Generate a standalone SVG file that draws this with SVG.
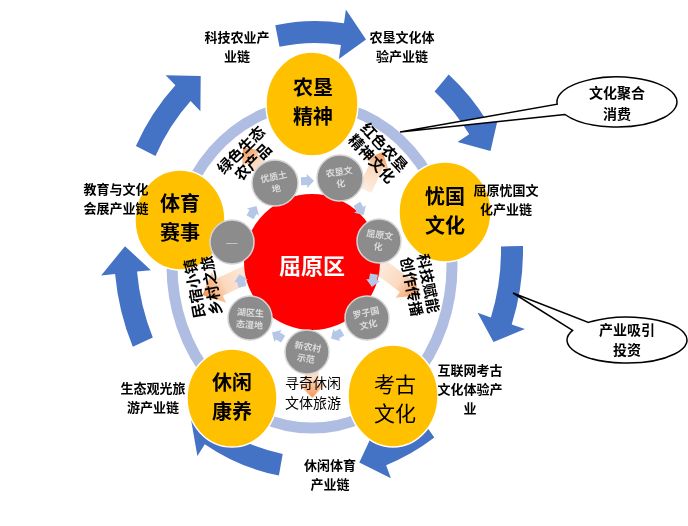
<svg xmlns="http://www.w3.org/2000/svg" width="688" height="526" viewBox="0 0 688 526">
<style>
text{font-family:"Noto Sans CJK SC","Liberation Sans",sans-serif;text-anchor:middle;fill:#000}
.lbl{font-size:13px;font-weight:700}
.nt{font-size:20px;font-weight:700}
.rt{font-size:15px;font-weight:700}
.arr{fill:#4472C4}
.node{fill:#FFC000;stroke:#FFFFFF;stroke-width:1.5}
.gc{fill:#8C8C8C;stroke:#D4D4D4;stroke-width:1.5}
.gt{font-size:9px;font-weight:700;fill:#DCDCDC}
.sba{fill:#B4C7E7}
.pa{opacity:0.9}
.call{fill:#FFFFFF;stroke:#000;stroke-width:1.5}
.ct{font-size:14px;font-weight:700}
</style>
<defs>
<linearGradient id="pg" x1="0" y1="0" x2="1" y2="0">
<stop offset="0" stop-color="#FDEBDD"/>
<stop offset="0.55" stop-color="#FBD5B8"/>
<stop offset="1" stop-color="#F0883E"/>
</linearGradient>
<path id="pa" d="M0,-7 L28,-7 L28,-13 L42,0 L28,13 L28,7 L0,7 Z" fill="url(#pg)"/>
<path id="sa" d="M-6,-4 L0,-4 L0,-7 L7,0 L0,7 L0,4 L-6,4 Z"/>
</defs>

<ellipse id="ring" cx="312" cy="266" rx="140" ry="162" fill="none" stroke="#B0BDE3" stroke-width="11"/>

<g id="connectors">
<g id="outer-arrows" class="arr">
<path d="M275.3,25.2 A208,229 0 0 1 344.0,23.2 L345.9,9.4 L366.0,39.4 L338.9,58.9 L340.9,45.0 A186,207 0 0 0 279.5,46.8 Z"/>
<path d="M448.7,74.6 A208,229 0 0 1 487.4,121.9 L499.0,114.1 L490.5,151.0 L457.6,142.1 L469.2,134.2 A186,207 0 0 0 434.6,91.4 Z"/>
<path d="M523.0,246.0 A208,229 0 0 1 511.7,324.6 L524.9,329.1 L493.5,342.1 L477.6,312.8 L490.9,317.4 A186,207 0 0 0 501.0,246.4 Z"/>
<path d="M434.3,437.6 A208,229 0 0 1 386.1,465.2 L390.9,478.3 L359.3,462.4 L373.8,431.4 L378.6,444.5 A186,207 0 0 0 421.7,419.6 Z"/>
<path d="M278.9,475.5 A208,229 0 0 1 204.8,444.2 L197.4,456.1 L191.0,419.4 L223.9,413.7 L216.4,425.5 A186,207 0 0 0 282.7,453.9 Z"/>
<path d="M132.8,346.8 A201,229 0 0 1 115.1,273.9 L101.2,275.4 L125.0,246.2 L150.9,270.2 L137.0,271.6 A179,207 0 0 0 152.8,337.5 Z"/>
<path d="M135.9,146.0 A201,229 0 0 1 175.4,85.3 L165.6,75.2 L200.7,75.9 L200.4,111.2 L190.6,101.1 A179,207 0 0 0 155.5,156.0 Z"/>
</g>
<g id="peach-arrows" class="pa">
<use href="#pa" transform="translate(270,180) rotate(-130)"/>
<use href="#pa" transform="translate(365,190) rotate(-65)"/>
<use href="#pa" transform="translate(378,265) rotate(37) scale(1.2)"/>
<use href="#pa" transform="translate(252,272) rotate(155) scale(1.3)"/>
<use href="#pa" transform="translate(311,356) rotate(88)"/>
</g>
</g>

<g id="node-nongken"><ellipse class="node" cx="312" cy="104" rx="46" ry="52"/><text class="nt" x="313" y="94.5">农垦</text><text class="nt" x="313" y="123.5">精神</text></g>
<g id="node-youguo"><ellipse class="node" cx="445" cy="212" rx="46" ry="50"/><text class="nt" x="445" y="204">忧国</text><text class="nt" x="445" y="233">文化</text></g>
<g id="node-kaogu"><ellipse class="node" cx="393" cy="396" rx="45" ry="51"/><text class="nt" style="font-weight:400;font-size:21px" x="395" y="391.5">考古</text><text class="nt" style="font-weight:400;font-size:21px" x="395" y="421">文化</text></g>
<g id="node-xiuxian"><ellipse class="node" cx="232" cy="398" rx="45" ry="49"/><text class="nt" x="232" y="389.5">休闲</text><text class="nt" x="232" y="418.5">康养</text></g>
<g id="node-tiyu"><ellipse class="node" cx="180" cy="220" rx="45" ry="50"/><text class="nt" x="180" y="210.5">体育</text><text class="nt" x="180" y="239.5">赛事</text></g>

<g id="node-center"><circle cx="312" cy="262" r="68" fill="#FF0000"/><text x="312" y="274" style="font-size:22px;font-weight:700;fill:#FFFFFF">屈原区</text></g>

<g id="small-arrows" class="sba">
<use href="#sa" transform="translate(253,212) rotate(-60)"/>
<use href="#sa" transform="translate(307,181) rotate(-2)"/>
<use href="#sa" transform="translate(360,209) rotate(58)"/>
<use href="#sa" transform="translate(373,280) rotate(99)"/>
<use href="#sa" transform="translate(337,335) rotate(150)"/>
<use href="#sa" transform="translate(278,336) rotate(211)"/>
<use href="#sa" transform="translate(241,281) rotate(-103)"/>
</g>

<g id="g-youzhi"><circle class="gc" cx="275" cy="183" r="23"/><text class="gt" transform="translate(275,183) rotate(-12)"><tspan x="0" y="-3">优质土</tspan><tspan x="0" y="9">地</tspan></text></g>
<g id="g-nongken"><circle class="gc" cx="340" cy="178" r="23"/><text class="gt" transform="translate(340,178) rotate(-8)"><tspan x="0" y="-3">农垦文</tspan><tspan x="0" y="9">化</tspan></text></g>
<g id="g-quyuan"><circle class="gc" cx="379" cy="241" r="22"/><text class="gt" transform="translate(379,241) rotate(8)"><tspan x="0" y="-3">屈原文</tspan><tspan x="0" y="9">化</tspan></text></g>
<g id="g-luozi"><circle class="gc" cx="367" cy="318" r="22"/><text class="gt" transform="translate(367,318) rotate(-12)"><tspan x="0" y="-2">罗子国</tspan><tspan x="0" y="10">文化</tspan></text></g>
<g id="g-xinnong"><circle class="gc" cx="307" cy="352" r="22"/><text class="gt" transform="translate(307,352) rotate(10)"><tspan x="0" y="-2">新农村</tspan><tspan x="0" y="10">示范</tspan></text></g>
<g id="g-huqu"><circle class="gc" cx="250" cy="318" r="22"/><text class="gt" transform="translate(250,318) rotate(4)"><tspan x="0" y="-2">湖区生</tspan><tspan x="0" y="10">态湿地</tspan></text></g>
<g id="g-blank"><circle class="gc" cx="232" cy="242" r="22"/><text class="gt" x="232" y="246" style="font-size:7px">——</text></g>

<g id="inner-labels">
<g transform="translate(247,156) rotate(-45)"><text class="rt" x="0" y="-3">绿色生态</text><text class="rt" x="0" y="14">农产品</text></g>
<g transform="translate(378,153) rotate(47)"><text class="rt" x="0" y="-3">红色农垦</text><text class="rt" x="0" y="14">精神文化</text></g>
<g transform="translate(420,285) rotate(79)"><text class="rt" x="0" y="-3">科技赋能</text><text class="rt" x="0" y="14">创作传播</text></g>
<g transform="translate(203,287) rotate(-100)"><text class="rt" x="0" y="-3">民宿小镇</text><text class="rt" x="0" y="14">乡村之旅</text></g>
<text x="313" y="388" style="font-size:14px">寻奇休闲</text>
<text x="313" y="408" style="font-size:14px">文体旅游</text>
</g>

<g id="outer-labels" class="lbl">
<text class="lbl" x="237" y="42">科技农业产</text><text class="lbl" x="237" y="61">业链</text>
<text class="lbl" x="402" y="42">农垦文化体</text><text class="lbl" x="402" y="61">验产业链</text>
<text class="lbl" x="506" y="194.5">屈原忧国文</text><text class="lbl" x="506" y="213.5">化产业链</text>
<text class="lbl" x="470" y="374.5">互联网考古</text><text class="lbl" x="470" y="393.5">文化体验产</text><text class="lbl" x="470" y="412.5">业</text>
<text class="lbl" x="330" y="469.5">休闲体育</text><text class="lbl" x="330" y="488.5">产业链</text>
<text class="lbl" x="153" y="392.5">生态观光旅</text><text class="lbl" x="153" y="411.5">游产业链</text>
<text class="lbl" x="116" y="194">教育与文化</text><text class="lbl" x="116" y="213">会展产业链</text>
</g>

<g id="callout-consume">
<path class="call" d="M565.0,114.5 L400,132 L557.2,104.2 A60,25 0 1 1 565.0,114.5 Z"/>
<text class="ct" x="617" y="98">文化聚合</text><text class="ct" x="617" y="119">消费</text>
</g>
<g id="callout-invest">
<path class="call" d="M572.6,330.3 L513,293 L588.4,322.4 A60,23 0 1 1 572.6,330.3 Z"/>
<text class="ct" x="627" y="334.5">产业吸引</text><text class="ct" x="627" y="355">投资</text>
</g>
</svg>
